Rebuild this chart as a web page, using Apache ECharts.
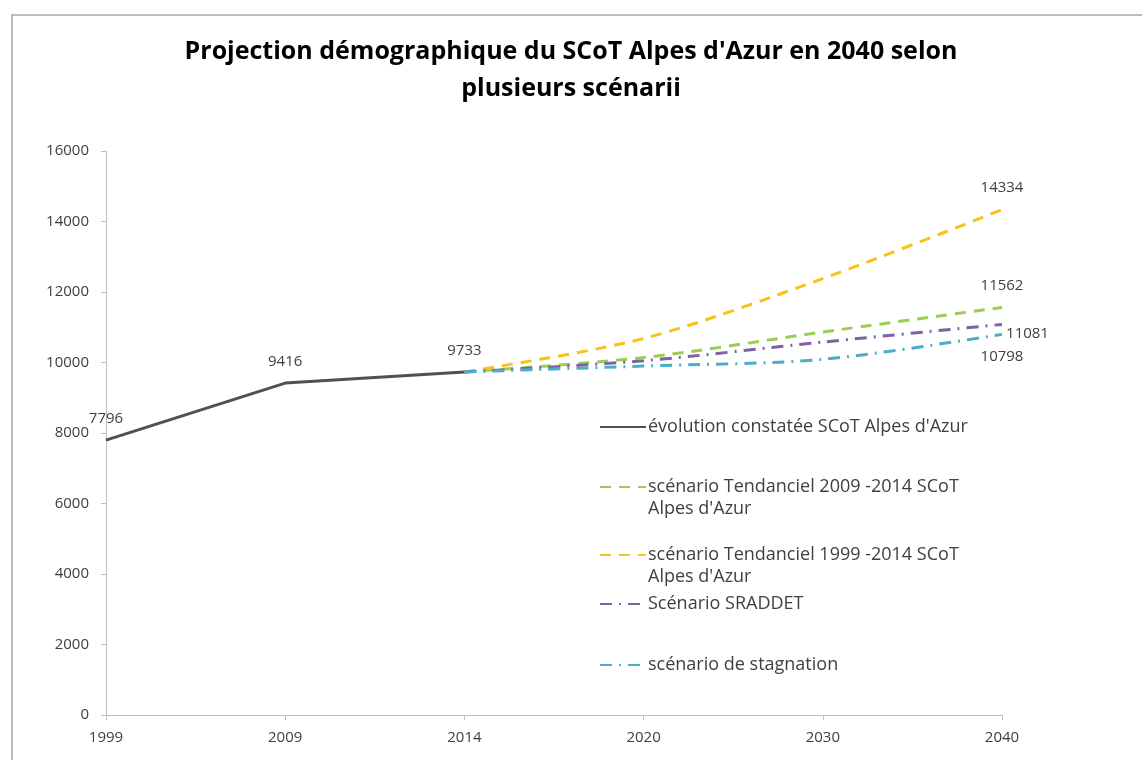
<!DOCTYPE html>
<html>
<head>
<meta charset="utf-8">
<script src="https://cdn.jsdelivr.net/npm/echarts@6/dist/echarts.min.js"></script>
<style>
html, body { margin: 0; padding: 0; background: #fff; }
#chartDiv { width: 1142px; height: 760px; }
</style>
</head>
<body>
<div id="chartDiv"></div>
<script>
// 初始化图表
let myChart = echarts.init(document.getElementById('chartDiv'));

// 数据
let years = ['1999', '2009', '2014', '2020', '2030', '2040'];
let observed = [7796, 9416, 9733, null, null, null];
let tendanciel0914 = [null, null, 9733, 10140, 10865, 11562];
let tendanciel9914 = [null, null, 9733, 10680, 12380, 14334];
let sraddet = [null, null, 9733, 10050, 10580, 11081];
let stagnation = [null, null, 9733, 9900, 10090, 10798];

let names = [
	"évolution constatée SCoT Alpes d'Azur",
	"scénario Tendanciel 2009 -2014 SCoT Alpes d'Azur",
	"scénario Tendanciel 1999 -2014 SCoT Alpes d'Azur",
	'Scénario SRADDET',
	'scénario de stagnation'
];

let font = 'Open Sans';
let textColor = '#404040';

// 只在最后一个点显示数值
function lastLabel(values, label) {
	return values.map(function (v, i) {
		if (i === values.length - 1) {
			return {value: v, label: Object.assign({show: true}, label)};
		}
		return v;
	});
}

let labelStyle = {
	show: false,
	color: textColor,
	fontFamily: font,
	fontSize: 15,
	distance: 14
};

function legendAt(name, top, multiline) {
	return {
		data: [name],
		left: 594,
		top: top,
		itemWidth: 46,
		itemHeight: 10,
		itemGap: 0,
		selectedMode: false,
		itemStyle: {opacity: 0},
		// 两行图例：前面加一个空行，让图标对齐第一行
		formatter: multiline ? function (n) {
			return ' \n' + n.replace(' SCoT Alpes', ' SCoT\nAlpes');
		} : null,
		textStyle: {
			color: textColor,
			fontFamily: font,
			fontSize: 18,
			lineHeight: 22,
			padding: [0, 0, 0, -3]
		}
	};
}

let option = {
	backgroundColor: '#fff',
	animation: false,
	title: {
		text: "Projection démographique du SCoT Alpes d'Azur en 2040 selon\nplusieurs scénarii",
		left: 'center',
		top: 28,
		textStyle: {
			fontFamily: font,
			fontSize: 25,
			fontWeight: 'bold',
			color: '#000',
			lineHeight: 37
		}
	},
	graphic: [{
		type: 'rect',
		shape: {x: 12, y: 15, width: 1200, height: 800},
		style: {fill: 'none', stroke: '#a6a6a6', lineWidth: 1.5},
		silent: true
	}],
	legend: [
		legendAt(names[0], 411, false),
		legendAt(names[1], 449, true),
		legendAt(names[2], 517, true),
		legendAt(names[3], 588, false),
		legendAt(names[4], 649, false)
	],
	grid: {
		left: 106,
		right: 140,
		top: 151,
		bottom: 45
	},
	xAxis: {
		type: 'category',
		data: years,
		boundaryGap: false,
		axisLine: {lineStyle: {color: '#bfbfbf', width: 1}},
		axisTick: {show: true, length: 5, lineStyle: {color: '#bfbfbf'}},
		axisLabel: {color: textColor, fontFamily: font, fontSize: 15, margin: 15}
	},
	yAxis: {
		type: 'value',
		min: 0,
		max: 16000,
		interval: 2000,
		splitLine: {show: false},
		axisLine: {show: true, lineStyle: {color: '#bfbfbf', width: 1}},
		axisTick: {show: true, length: 5, lineStyle: {color: '#bfbfbf'}},
		axisLabel: {
			color: textColor, fontFamily: font, fontSize: 15, margin: 17,
			formatter: function (v) { return String(v); }
		}
	},
	series: [
		{
			name: names[0],
			type: 'line',
			data: observed,
			symbol: 'circle',
			symbolSize: 0.1,
			lineStyle: {color: '#505050', width: 3},
			itemStyle: {color: '#505050'},
			label: Object.assign({}, labelStyle, {show: true, position: 'top'})
		},
		{
			name: names[1],
			type: 'line',
			data: lastLabel(tendanciel0914, {position: 'top'}),
			smooth: 0.3,
			symbol: 'circle',
			symbolSize: 0.1,
			lineStyle: {color: '#9acd52', width: 3, type: [11, 8]},
			itemStyle: {color: '#9acd52'},
			label: labelStyle
		},
		{
			name: names[2],
			type: 'line',
			data: lastLabel(tendanciel9914, {position: 'top'}),
			smooth: 0.3,
			symbol: 'circle',
			symbolSize: 0.1,
			lineStyle: {color: '#f9c21a', width: 3, type: [11, 8]},
			itemStyle: {color: '#f9c21a'},
			label: labelStyle
		},
		{
			name: names[3],
			type: 'line',
			data: lastLabel(sraddet, {position: 'right', distance: 4, offset: [0, 9]}),
			smooth: 0.3,
			symbol: 'circle',
			symbolSize: 0.1,
			lineStyle: {color: '#7e62a1', width: 3, type: [12, 7, 2, 7]},
			itemStyle: {color: '#7e62a1'},
			label: labelStyle
		},
		{
			name: names[4],
			type: 'line',
			data: lastLabel(stagnation, {position: 'bottom', distance: 15}),
			smooth: 0.3,
			symbol: 'circle',
			symbolSize: 0.1,
			lineStyle: {color: '#4aaec8', width: 3, type: [12, 7, 2, 7]},
			itemStyle: {color: '#4aaec8'},
			label: labelStyle
		}
	]
};

myChart.setOption(option);
</script>
</body>
</html>
